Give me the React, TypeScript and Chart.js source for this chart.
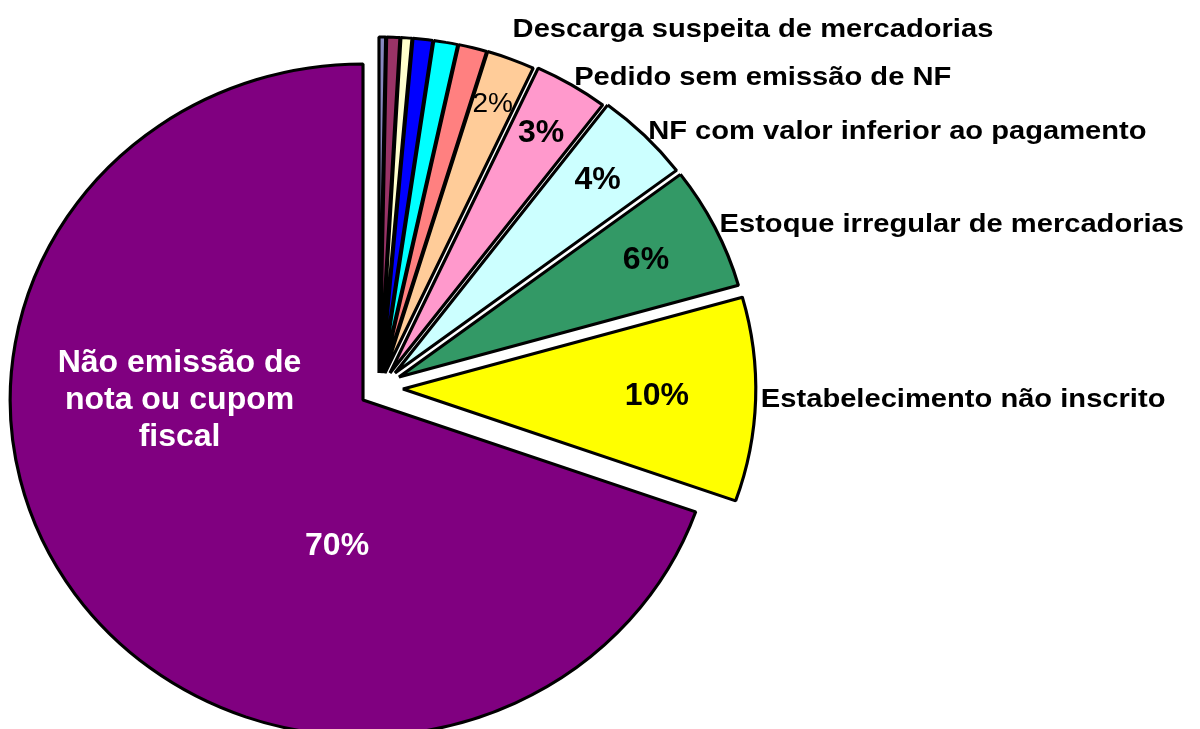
import React, { useEffect, useRef } from 'react';
import { Chart, registerables } from 'chart.js';

Chart.register(...registerables);

// ---- data (clockwise from 12 o'clock) ----
const categories = [
  '', '', '', '', '', '',
  'Descarga suspeita de mercadorias',
  'Pedido sem emissão de NF',
  'NF com valor inferior ao pagamento',
  'Estoque irregular de mercadorias',
  'Estabelecimento não inscrito',
  'Não emissão de nota ou cupom fiscal',
];
const values = [0.3, 0.6, 0.5, 0.9, 1.1, 1.3, 2.2, 3.4, 4.4, 5.9, 9.8, 69.6];

// ---- styles ----
const sliceColors = [
  '#8888C0', '#993366', '#FFFFCC', '#0000FF', '#00FFFF', '#FF8080',
  '#FFCC99', '#FF99CC', '#CCFFFF', '#339966', '#FFFF00', '#800080',
];
// explosion of each slice (screen pixels)
const explodeOffsets: number[][] = [
  [0, 0], [1, 0], [2, 0], [3, 0], [4, 0], [5, 0],
  [6, 0], [11, 0], [16, 0], [20, 4], [24, 16], [-16, 27],
];

const W = 1200;
const H = 729;
const SX = 1.05; // horizontal stretch of the pie
const RADIUS = 336;
const LABEL_GAP = 48;
const FONT = '"Liberation Sans", Arial, Helvetica, sans-serif';

function stretchedText(ctx: CanvasRenderingContext2D, text: string, x: number, y: number, align: CanvasTextAlign, stretch: number) {
  ctx.save();
  ctx.translate(x, y);
  ctx.scale(stretch, 1);
  ctx.textAlign = align;
  ctx.textBaseline = 'middle';
  ctx.fillText(text, 0, 0);
  ctx.restore();
}

function wrapLines(ctx: CanvasRenderingContext2D, text: string, maxW: number) {
  const words = text.split(' ');
  const lines: string[] = [];
  let cur = '';
  for (const w of words) {
    const t = cur ? cur + ' ' + w : w;
    if (cur && ctx.measureText(t).width > maxW) {
      lines.push(cur);
      cur = w;
    } else cur = t;
  }
  if (cur) lines.push(cur);
  return lines;
}

const decorPlugin = {
  id: 'pieDecor',
  beforeDatasetsDraw(chart: any) {
    const ctx = chart.ctx as CanvasRenderingContext2D;
    const meta = chart.getDatasetMeta(0);
    meta.data.forEach((el: any, i: number) => {
      if (!el.__wrapped) {
        const orig = el.draw;
        el.draw = function (c: CanvasRenderingContext2D, area: any) {
          const [dx, dy] = explodeOffsets[i];
          c.save();
          c.translate(dx / SX, dy);
          orig.call(this, c, area);
          c.restore();
        };
        el.__wrapped = true;
      }
    });
    const cx = meta.data[0].x;
    ctx.save();
    ctx.translate(cx, 0);
    ctx.scale(SX, 1);
    ctx.translate(-cx, 0);
  },
  afterDatasetsDraw(chart: any) {
    const ctx = chart.ctx as CanvasRenderingContext2D;
    ctx.restore();
    const meta = chart.getDatasetMeta(0);
    const cx = meta.data[0].x;
    const cy = meta.data[0].y;
    const maxIdx = values.indexOf(Math.max(...values));
    const insideEllipse = (px: number, py: number) => {
      const rx = RADIUS * SX + 6;
      const ry = RADIUS + 6;
      return ((px - cx) / rx) ** 2 + ((py - cy) / ry) ** 2 < 1;
    };

    const outside: { text: string; x: number; y: number }[] = [];

    meta.data.forEach((el: any, i: number) => {
      const { x, y, startAngle, endAngle, outerRadius } = el.getProps(
        ['x', 'y', 'startAngle', 'endAngle', 'outerRadius'], true);
      const [ex, ey] = explodeOffsets[i];
      const ox = cx + (x - cx) * SX + ex;
      const oy = y + ey;
      const pt = (ang: number, rr: number) => [ox + Math.cos(ang) * rr * SX, oy + Math.sin(ang) * rr];
      const mid = (startAngle + endAngle) / 2;
      const v = values[i];
      const pctText = Math.round(v) + '%';

      if (i === maxIdx) {
        ctx.fillStyle = '#FFFFFF';
        ctx.font = `bold 32px ${FONT}`;
        const span = endAngle - startAngle;
        const [nx, ny] = pt(startAngle + span * 0.64, outerRadius * 0.52);
        const lines = wrapLines(ctx, categories[i], 260);
        const lh = 37;
        lines.forEach((ln, k) => {
          stretchedText(ctx, ln, nx, ny + (k - (lines.length - 1) / 2) * lh, 'center', 1);
        });
        const [px, py] = pt(startAngle + span * 0.32, outerRadius * 0.44);
        stretchedText(ctx, pctText, px, py, 'center', 1);
        return;
      }

      if (v >= 2) {
        const f = Math.max(0.72, 0.9 - 0.02 * v);
        const [px, py] = pt(mid, outerRadius * f);
        ctx.fillStyle = '#000000';
        ctx.font = v >= 3 ? `bold 32px ${FONT}` : `28px ${FONT}`;
        stretchedText(ctx, pctText, px, py, 'center', 1);
      }

      if (categories[i]) {
        let [lx, ly] = pt(mid, outerRadius + 5);
        let guard = 0;
        while (insideEllipse(lx + 5, ly + 11) && guard < 200) {
          ly -= 1;
          guard++;
        }
        outside.push({ text: categories[i], x: lx, y: ly });
      }
    });

    // keep outside labels from crowding (walk from lowest upward)
    for (let k = outside.length - 2; k >= 0; k--) {
      const below = outside[k + 1];
      if (outside[k].y > below.y - LABEL_GAP) outside[k].y = below.y - LABEL_GAP;
    }
    ctx.fillStyle = '#000000';
    ctx.font = `bold 26px ${FONT}`;
    outside.forEach((o) => stretchedText(ctx, o.text, o.x, o.y, 'left', 1.12));
  },
};

export default function App() {
  const ref = useRef<HTMLCanvasElement | null>(null);

  useEffect(() => {
    if (!ref.current) return;
    const chart = new Chart(ref.current, {
      type: 'pie',
      data: {
        labels: categories,
        datasets: [
          {
            data: values,
            backgroundColor: sliceColors,
            borderColor: '#000000',
            borderWidth: 3,
            clip: false as any,
          } as any,
        ],
      },
      options: {
        animation: false,
        responsive: false,
        events: [],
        radius: RADIUS,
        layout: { padding: { left: 0, right: 442, top: 17, bottom: 0 } },
        plugins: {
          legend: { display: false },
          tooltip: { enabled: false },
          title: { display: false },
        },
      } as any,
      plugins: [decorPlugin as any],
    });
    return () => chart.destroy();
  }, []);

  return (
    <div style={{ position: 'absolute', left: 0, top: 0, width: W, height: H, background: '#FFFFFF' }}>
      <canvas ref={ref} width={W} height={H} style={{ display: 'block', width: W, height: H }} />
    </div>
  );
}
